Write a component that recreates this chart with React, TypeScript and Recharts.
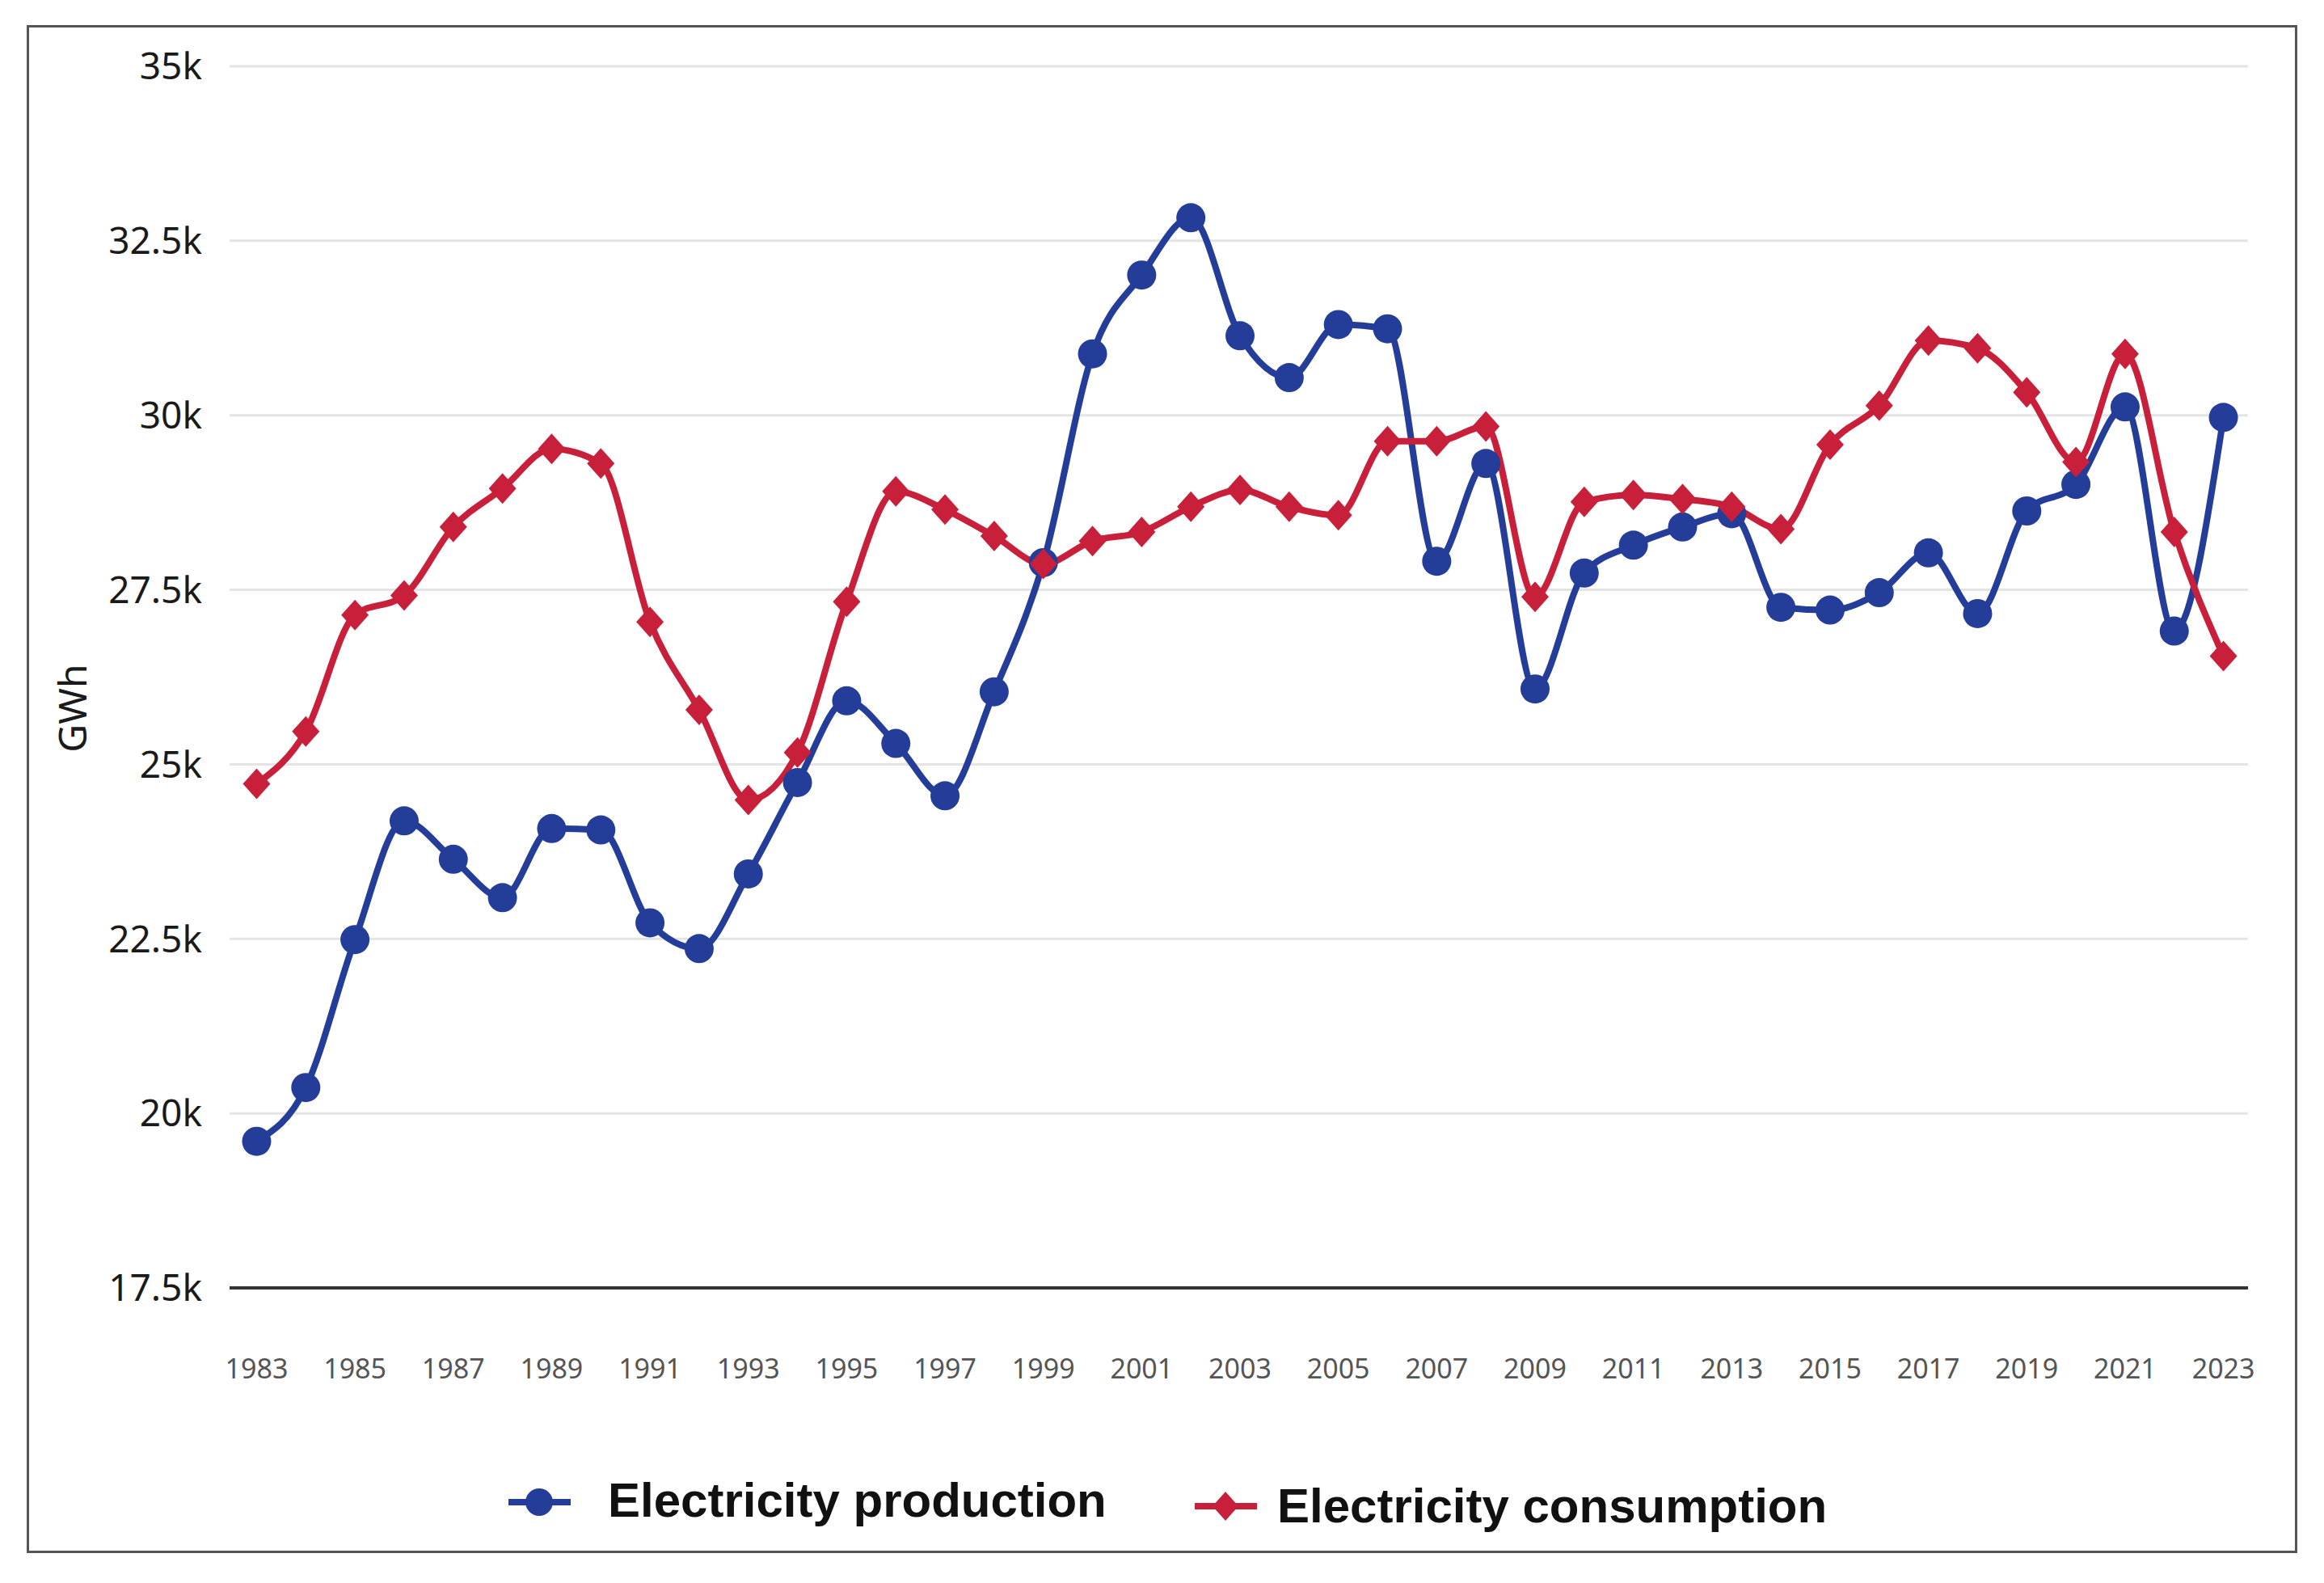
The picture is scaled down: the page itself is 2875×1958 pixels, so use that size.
import React from "react";
import { LineChart, Line, XAxis, YAxis, CartesianGrid, Label } from "recharts";

const years = [
  1983, 1984, 1985, 1986, 1987, 1988, 1989, 1990, 1991, 1992, 1993, 1994, 1995, 1996,
  1997, 1998, 1999, 2000, 2001, 2002, 2003, 2004, 2005, 2006, 2007, 2008, 2009, 2010,
  2011, 2012, 2013, 2014, 2015, 2016, 2017, 2018, 2019, 2020, 2021, 2022, 2023,
];

// GWh
const production = [
  19600, 20370, 22490, 24190, 23640, 23090, 24080, 24060, 22730, 22360, 23430, 24740,
  25910, 25300, 24550, 26040, 27890, 30880, 32010, 32830, 31140, 30540, 31300, 31240,
  27910, 29310, 26080, 27740, 28140, 28400, 28590, 27250, 27210, 27460, 28030, 27160,
  28630, 29010, 30120, 26910, 29970,
];

const consumption = [
  24720, 25470, 27140, 27420, 28400, 28950, 29520, 29310, 27040, 25780, 24490, 25170,
  27330, 28910, 28650, 28270, 27870, 28200, 28330, 28690, 28930, 28690, 28570, 29630,
  29630, 29840, 27400, 28760, 28860, 28800, 28690, 28370, 29580, 30140, 31070, 30960,
  30330, 29330, 30880, 28330, 26550,
];

const yTicks = [17500, 20000, 22500, 25000, 27500, 30000, 32500, 35000];
const xTicks = [
  1983, 1985, 1987, 1989, 1991, 1993, 1995, 1997, 1999, 2001, 2003, 2005, 2007, 2009,
  2011, 2013, 2015, 2017, 2019, 2021, 2023,
];

const BLUE = "#243d98";
const RED = "#c8203a";

const data = years.map((year, i) => ({
  year,
  production: production[i],
  consumption: consumption[i],
}));

const Diamond = (props: any) => {
  const { cx, cy, index } = props;
  if (cx == null || cy == null) return null;
  return (
    <path
      key={`d-${index}`}
      d={`M${cx},${cy - 19} L${cx + 17},${cy} L${cx},${cy + 19} L${cx - 17},${cy} Z`}
      fill={RED}
    />
  );
};

const legendText: React.CSSProperties = {
  position: "absolute",
  fontFamily: "'Liberation Sans', Arial, sans-serif",
  fontWeight: 700,
  fontSize: 60,
  color: "#111",
  lineHeight: "60px",
  whiteSpace: "nowrap",
};

export default function App() {
  return (
    <div
      style={{
        position: "absolute",
        left: 0,
        top: 0,
        width: 2875,
        height: 1958,
        background: "#fff",
        overflow: "hidden",
      }}
    >
      <div
        style={{
          position: "absolute",
          left: 33,
          top: 31,
          width: 2803,
          height: 1884,
          border: "3px solid #555",
        }}
      />
      <div style={{ position: "absolute", left: 0, top: 0 }}>
        <LineChart
          width={2875}
          height={1958}
          data={data}
          margin={{ top: 82, right: 94, bottom: 165, left: 0 }}
        >
          <CartesianGrid stroke="#e4e4e4" strokeWidth={3} vertical={false} />
          <XAxis
            dataKey="year"
            type="number"
            domain={[1982.45, 2023.5]}
            ticks={xTicks}
            height={200}
            tickLine={false}
            tickSize={0}
            tickMargin={88}
            axisLine={{ stroke: "#333", strokeWidth: 4 }}
            tick={{ fill: "#555", fontSize: 34, fontFamily: "'Noto Sans', sans-serif" }}
            interval={0}
          />
          <YAxis
            domain={[17500, 35000]}
            ticks={yTicks}
            width={284}
            tickLine={false}
            tickSize={0}
            tickMargin={34}
            axisLine={false}
            tickFormatter={(v: number) => `${v / 1000}k`}
            tick={{ fill: "#1a1a1a", fontSize: 46, fontFamily: "'Noto Sans', sans-serif" }}
          >
            <Label
              content={() => (
                <text
                  x={88}
                  y={876}
                  transform="rotate(-90 88 876)"
                  textAnchor="middle"
                  dominantBaseline="central"
                  fill="#1a1a1a"
                  fontSize={48}
                  fontFamily="'Noto Sans', sans-serif"
                >
                  GWh
                </text>
              )}
            />
          </YAxis>
          <Line
            type="monotone"
            dataKey="production"
            stroke={BLUE}
            strokeWidth={8}
            dot={{ r: 18, fill: BLUE, stroke: BLUE, strokeWidth: 0 }}
            activeDot={false}
            isAnimationActive={false}
          />
          <Line
            type="monotone"
            dataKey="consumption"
            stroke={RED}
            strokeWidth={8}
            dot={Diamond}
            activeDot={false}
            isAnimationActive={false}
          />
        </LineChart>
      </div>

      <svg
        style={{ position: "absolute", left: 620, top: 1830 }}
        width={100}
        height={60}
      >
        <line x1={9} y1={28} x2={86} y2={28} stroke={BLUE} strokeWidth={8} />
        <circle cx={47} cy={28} r={17} fill={BLUE} />
      </svg>
      <div style={{ ...legendText, left: 752, top: 1826 }}>Electricity production</div>

      <svg
        style={{ position: "absolute", left: 1470, top: 1835 }}
        width={100}
        height={60}
      >
        <line x1={8} y1={28} x2={85} y2={28} stroke={RED} strokeWidth={8} />
        <path d="M46,10 L62,28 L46,46 L30,28 Z" fill={RED} />
      </svg>
      <div style={{ ...legendText, left: 1580, top: 1833 }}>Electricity consumption</div>
    </div>
  );
}
